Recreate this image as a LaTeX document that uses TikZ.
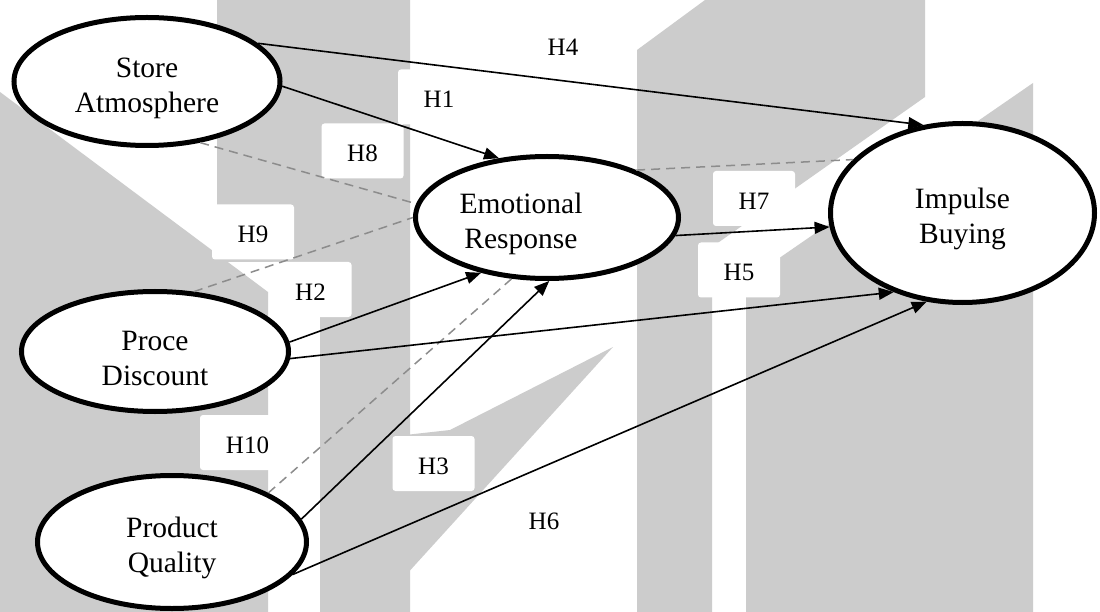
\documentclass[tikz,border=0pt]{standalone}
\usepackage{fontspec}
\setmainfont{Liberation Serif}
\usetikzlibrary{shapes.geometric,arrows.meta}
\definecolor{wm}{HTML}{CCCCCC}
\definecolor{dashgray}{HTML}{8C8C8C}
\newcommand{\lowstrut}{\rule{0pt}{33pt}}
\begin{document}
\begin{tikzpicture}[x=1pt,y=-1pt,
  construct/.style={ellipse, draw, line width=5pt, fill=white, inner sep=0pt, align=center,
    font=\fontsize{29.5}{35}\selectfont},
  hlabel/.style={fill=white, rounded corners=3pt, minimum width=82pt, minimum height=55pt,
    inner sep=0pt, text height=25pt, text depth=3.5pt, font=\fontsize{25}{30}\selectfont},
  arr/.style={line width=1.6pt, -{Triangle[length=15pt,width=12pt]}},
  corr/.style={line width=1.5pt, draw=dashgray, dash pattern=on 9pt off 6pt}]
\useasboundingbox (0,0) rectangle (1100,612);
\fill[white] (0,0) rectangle (1100,612);
% watermark
\fill[wm] (0,92) -- (268,292) -- (268,612) -- (0,612) -- cycle;
\fill[wm] (217,0) -- (410,0) -- (410,612) -- (320,612) -- (320,262) -- (217,262) -- cycle;
\fill[wm] (613,347) -- (450,430) -- (405,435) -- (405,576) -- cycle;
\fill[wm] (637,50) -- (705,0) -- (925,0) -- (925,97) -- (712,247) -- (712,612) -- (637,612) -- cycle;
\fill[wm] (746,281) -- (1033,83) -- (1033,612) -- (746,612) -- cycle;
% constructs
\node[construct, minimum width=266pt, minimum height=128pt] (sa) at (147,81.5) {\lowstrut Store\\Atmosphere};
\node[construct, minimum width=263pt, minimum height=122pt] (er) at (547,217.5) {\lowstrut Emotional\hspace*{52pt}\\Response\hspace*{52pt}};
\node[construct, minimum width=264pt, minimum height=179pt] (ib) at (962.5,213) {\lowstrut Impulse\\Buying};
\node[construct, minimum width=267pt, minimum height=120pt] (pd) at (155,351.5) {\lowstrut Proce\\Discount};
\node[construct, minimum width=269pt, minimum height=133pt] (pq) at (172,542) {\lowstrut Product\\Quality};
% labels
\node[hlabel] (h1) at (439,97) {H1};
\node[hlabel] (h2) at (310.5,289.5) {H2};
\node[hlabel] (h3) at (433.5,463.5) {H3};
\node[hlabel] (h4) at (563,45) {H4};
\node[hlabel] (h5) at (739,270) {H5};
\node[hlabel] (h6) at (544,519) {H6};
\node[hlabel] (h7) at (754,198.5) {H7};
\node[hlabel] (h8) at (362.5,151) {H8};
\node[hlabel] (h9) at (253,232) {H9};
\node[hlabel, minimum width=95pt] (h10) at (247.5,442.5) {H10};
% paths
\draw[arr] (sa.19.6) -- (ib.114.4);
\draw[arr] (sa.-2.7) -- (er.129.3);
\draw[corr] (sa.-49.1) -- (er.174.7);
\draw[corr] (pd.57) -- (er.180.2);
\draw[arr] (pd.4) -- (er.220.4);
\draw[corr] (pq.27) -- (er.240.2);
\draw[arr] (pq.10) -- (er.272.6);
\draw[arr] (pd.-3.6) -- (ib.229.5);
\draw[arr] (pq.-15.9) -- (ib.248.6);
\draw[arr] (er.-8.5) -- (ib.186.6);
\draw[corr] (er.28.3) -- (ib.154.4);
\end{tikzpicture}
\end{document}
